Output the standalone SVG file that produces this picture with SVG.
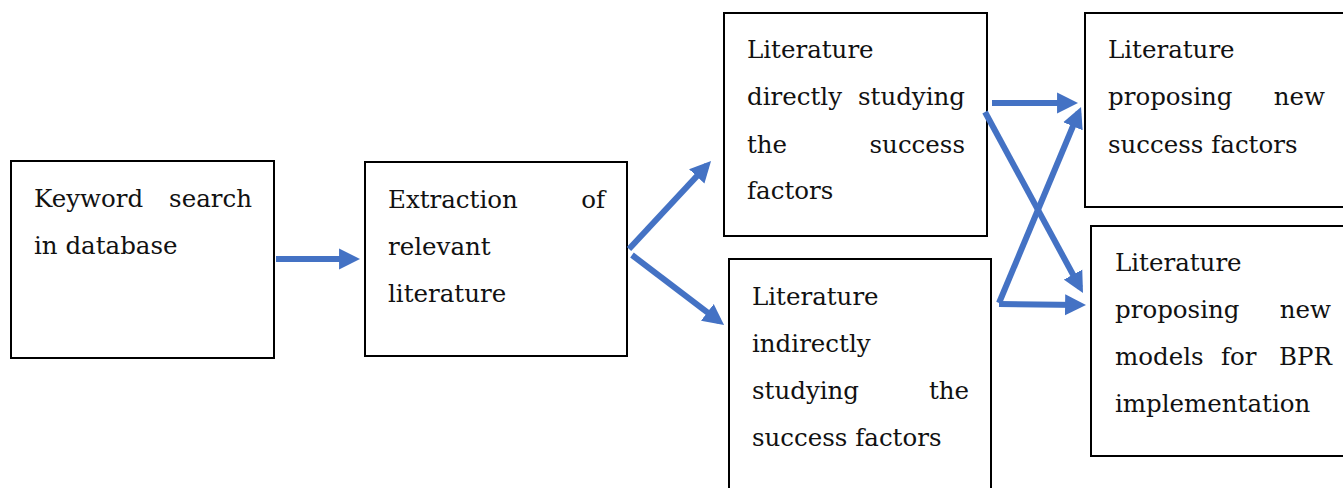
<svg xmlns="http://www.w3.org/2000/svg" width="1343" height="488" viewBox="0 0 1343 488">
<style>
.box{fill:#fff;stroke:#000;stroke-width:2}
.t{font-family:"DejaVu Serif","Liberation Serif",serif;font-size:24.5px;fill:#111}
.e{text-anchor:end}
.c{stroke:#4472C4;stroke-width:6;fill:none;marker-end:url(#ah)}
</style>
<defs>
<marker id="ah" viewBox="0 0 10 10" refX="7.1" refY="5" markerWidth="3.5" markerHeight="3.7" orient="auto" markerUnits="strokeWidth">
<path d="M0,0 L10,5 L0,10 z" fill="#4472C4"/>
</marker>
</defs>
<rect width="1343" height="488" fill="#fff"/>
<g id="n1">
<rect class="box" x="11" y="161" width="263" height="197"/>
<text class="t" x="34" y="207">Keyword</text><text class="t e" x="252" y="207">search</text>
<text class="t" x="34" y="254">in database</text>
</g>
<g id="n2">
<rect class="box" x="365" y="162" width="262" height="194"/>
<text class="t" x="388" y="208">Extraction</text><text class="t e" x="605" y="208">of</text>
<text class="t" x="388" y="255">relevant</text>
<text class="t" x="388" y="302">literature</text>
</g>
<g id="n3">
<rect class="box" x="724" y="13" width="263" height="223"/>
<text class="t" x="747" y="58">Literature</text>
<text class="t" x="747" y="105">directly</text><text class="t e" x="965" y="105">studying</text>
<text class="t" x="747" y="153">the</text><text class="t e" x="965" y="153">success</text>
<text class="t" x="747" y="199">factors</text>
</g>
<g id="n4">
<rect class="box" x="729" y="259" width="262" height="240"/>
<text class="t" x="752" y="305">Literature</text>
<text class="t" x="752" y="352">indirectly</text>
<text class="t" x="752" y="399">studying</text><text class="t e" x="969" y="399">the</text>
<text class="t" x="752" y="446">success factors</text>
</g>
<g id="n5">
<rect class="box" x="1085" y="13" width="270" height="194"/>
<text class="t" x="1108" y="58">Literature</text>
<text class="t" x="1108" y="105">proposing</text><text class="t e" x="1325" y="105">new</text>
<text class="t" x="1108" y="153">success factors</text>
</g>
<g id="n6">
<rect class="box" x="1091" y="226" width="270" height="230"/>
<text class="t" x="1115" y="271">Literature</text>
<text class="t" x="1115" y="318">proposing</text><text class="t e" x="1331" y="318">new</text>
<text class="t" x="1115" y="365">models</text><text class="t" x="1221" y="365">for</text><text class="t e" x="1332" y="365">BPR</text>
<text class="t" x="1115" y="412">implementation</text>
</g>
<g id="connectors">
<line class="c" x1="276" y1="259" x2="354" y2="259"/>
<line class="c" x1="629" y1="249" x2="706.9" y2="165.4"/>
<line class="c" x1="632" y1="255" x2="719.2" y2="321.4"/>
<line class="c" x1="992" y1="103" x2="1072" y2="103"/>
<line class="c" x1="985" y1="112" x2="1080.1" y2="287.7"/>
<line class="c" x1="999" y1="303" x2="1078.7" y2="112.5"/>
<line class="c" x1="999" y1="304" x2="1080" y2="305"/>
</g>
</svg>
